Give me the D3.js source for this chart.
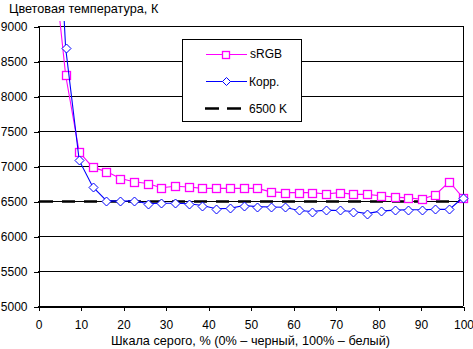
<!DOCTYPE html>
<html>
<head>
<meta charset="utf-8">
<script src="https://cdn.jsdelivr.net/npm/d3@7"></script>
<style>
  body { margin: 0; background: #fff; }
  svg { display: block; font-family: "Liberation Sans", Arial, sans-serif; font-size: 12px; }
  .axis text { font-size: 12px; fill: #000; }
  .title { font-size: 12.7px; }
</style>
</head>
<body>
<svg id="chart" width="473" height="349"></svg>
<script>
// grey level, % (32 steps)
const grey = [0, 3.2, 6.5, 9.7, 12.9, 16.1, 19.4, 22.6, 25.8, 29.0, 32.3, 35.5, 38.7, 41.9, 45.2, 48.4,
              51.6, 54.8, 58.1, 61.3, 64.5, 67.7, 71.0, 74.2, 77.4, 80.6, 83.9, 87.1, 90.3, 93.5, 96.8, 100];
const srgb = [13000, 10200, 8300, 7200, 6980, 6920, 6820, 6775, 6750, 6690, 6710, 6700, 6680, 6680, 6680, 6680,
              6680, 6630, 6620, 6620, 6620, 6600, 6620, 6595, 6595, 6575, 6555, 6545, 6525, 6590, 6775, 6545];
const corr = [16000, 12500, 8690, 7080, 6700, 6505, 6495, 6505, 6460, 6467, 6467, 6460, 6435, 6390, 6395, 6435,
              6420, 6415, 6410, 6365, 6350, 6370, 6365, 6350, 6320, 6355, 6370, 6375, 6375, 6380, 6380, 6550];
const ref = 6500;
const yTicks = [5000, 5500, 6000, 6500, 7000, 7500, 8000, 8500, 9000];
const xTicks = [0, 10, 20, 30, 40, 50, 60, 70, 80, 90, 100];

const svg = d3.select("#chart");
const plotLeft = 38, plotRight = 463, plotTop = 26, plotBottom = 306;

const x = d3.scaleLinear().domain([0, 100]).range([plotLeft, plotRight]);
const y = d3.scaleLinear().domain([5000, 9000]).range([plotBottom, plotTop]);

// Title
svg.append("text")
    .attr("class", "title")
    .attr("x", 9)
    .attr("y", 13)
    .text("Цветовая температура, К");

// Gridlines
svg.append("g")
    .selectAll("line")
    .data(yTicks)
    .join("line")
    .attr("x1", plotLeft)
    .attr("x2", plotRight)
    .attr("y1", d => Math.round(y(d)) + 0.5)
    .attr("y2", d => Math.round(y(d)) + 0.5)
    .attr("stroke", "#000")
    .attr("shape-rendering", "crispEdges");

// Right border
svg.append("line")
    .attr("x1", plotRight + 0.5).attr("x2", plotRight + 0.5)
    .attr("y1", plotTop).attr("y2", plotBottom)
    .attr("stroke", "#000")
    .attr("shape-rendering", "crispEdges");

// Axes
svg.append("g")
    .attr("class", "axis")
    .attr("transform", `translate(${plotLeft + 0.5},0.5)`)
    .call(d3.axisLeft(y).tickValues(yTicks).tickFormat(d3.format("d")).tickSize(5).tickSizeOuter(0).tickPadding(6));

svg.append("g")
    .attr("class", "axis")
    .attr("transform", `translate(0.5,${plotBottom + 0.5})`)
    .call(d3.axisBottom(x).tickValues(xTicks).tickSize(4).tickSizeOuter(0).tickPadding(10));

svg.selectAll(".axis path, .axis line")
    .attr("stroke", "#000")
    .attr("shape-rendering", "crispEdges");
svg.selectAll(".axis").attr("font-family", null).attr("font-size", null);

// Axis title
svg.append("text")
    .attr("class", "title")
    .attr("x", (plotLeft + plotRight) / 2)
    .attr("y", 345)
    .attr("text-anchor", "middle")
    .text("Шкала серого, % (0% – черный, 100% – белый)");

// Clip for lines that run off the top
svg.append("clipPath")
    .attr("id", "plot")
    .append("rect")
    .attr("x", plotLeft)
    .attr("y", plotTop - 5)
    .attr("width", plotRight - plotLeft + 1)
    .attr("height", plotBottom - plotTop + 5);

// 6500 K reference
svg.append("line")
    .attr("x1", x(0) + 2)
    .attr("x2", x(100))
    .attr("y1", y(ref) + 0.5)
    .attr("y2", y(ref) + 0.5)
    .attr("stroke", "#000")
    .attr("stroke-width", 2.5)
    .attr("stroke-dasharray", "13 9");

const line = d3.line()
    .x((d, i) => x(grey[i]))
    .y(d => y(d));

const diamond = s => `M0,${-s}L${s},0L0,${s}L${-s},0Z`;

function drawSeries(values, color, marker) {
    svg.append("path")
        .datum(values)
        .attr("clip-path", "url(#plot)")
        .attr("fill", "none")
        .attr("stroke", color)
        .attr("stroke-width", 1.1)
        .attr("d", line);

    const pts = svg.append("g")
        .selectAll("g")
        .data(values.map((v, i) => ({ x: grey[i], v })).filter(d => d.v <= 9000))
        .join("g")
        .attr("transform", d => `translate(${Math.round(x(d.x))},${Math.round(y(d.v))})`);

    if (marker === "square") {
        pts.append("rect")
            .attr("x", -3.5).attr("y", -3.5)
            .attr("width", 8).attr("height", 8)
            .attr("fill", "#fff")
            .attr("stroke", color)
            .attr("stroke-width", 1.3);
    } else {
        pts.append("path")
            .attr("d", diamond(4.5))
            .attr("transform", "translate(0.5,0.5)")
            .attr("fill", "#fff")
            .attr("stroke", color)
            .attr("stroke-width", 1);
    }
}

drawSeries(srgb, "#ff00ff", "square");
drawSeries(corr, "#0000ff", "diamond");

// Legend
const legend = svg.append("g");
legend.append("rect")
    .attr("x", 182.5).attr("y", 39.5)
    .attr("width", 119).attr("height", 82)
    .attr("fill", "#fff")
    .attr("stroke", "#000")
    .attr("shape-rendering", "crispEdges");

legend.append("line").attr("x1", 206).attr("x2", 247).attr("y1", 54.5).attr("y2", 54.5)
    .attr("stroke", "#ff00ff").attr("stroke-width", 1.1);
legend.append("rect").attr("x", 222.5).attr("y", 51.5).attr("width", 7).attr("height", 7)
    .attr("fill", "#fff").attr("stroke", "#ff00ff").attr("stroke-width", 1.3);
legend.append("text").attr("x", 250).attr("y", 58).text("sRGB");

legend.append("line").attr("x1", 206).attr("x2", 247).attr("y1", 81.5).attr("y2", 81.5)
    .attr("stroke", "#0000ff").attr("stroke-width", 1.1);
legend.append("path").attr("d", diamond(4)).attr("transform", "translate(226.5,81.5)")
    .attr("fill", "#fff").attr("stroke", "#0000ff");
legend.append("text").attr("x", 249).attr("y", 86).text("Корр.");

legend.append("line").attr("x1", 205).attr("x2", 241).attr("y1", 108.5).attr("y2", 108.5)
    .attr("stroke", "#000").attr("stroke-width", 2.5).attr("stroke-dasharray", "14 8");
legend.append("text").attr("x", 249).attr("y", 113).text("6500 K");
</script>
</body>
</html>
